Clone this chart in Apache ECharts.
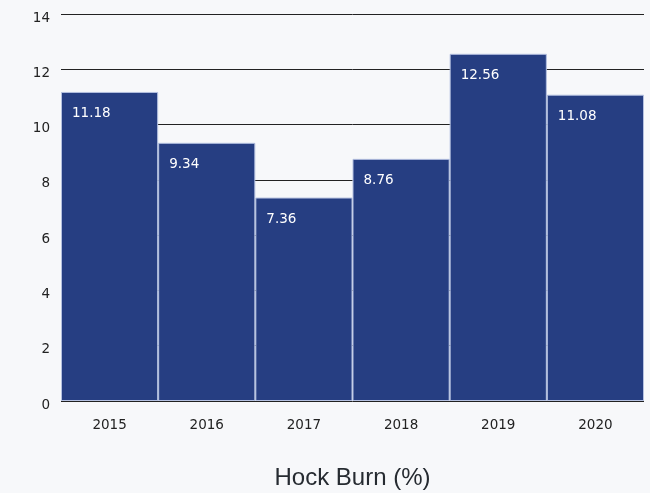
<!DOCTYPE html>
<html><head><meta charset="utf-8">
<script src="https://cdn.jsdelivr.net/npm/echarts@6/dist/echarts.min.js"></script>
<style>html,body{margin:0;padding:0;background:#f7f8fa}#c{width:650px;height:493px}</style>
</head><body><div id="c"></div>
<script>
const categories = ['2015','2016','2017','2018','2019','2020'];
const values = [11.18, 9.34, 7.36, 8.76, 12.56, 11.08];
const yTicks = [0,2,4,6,8,10,12,14];
const chart = echarts.init(document.getElementById('c'));
const font = 'DejaVu Sans';
chart.setOption({
  backgroundColor:'#f7f8fa',
  animation:false,
  grid:{left:61,right:6,top:14,bottom:92,containLabel:false,outerBoundsMode:'none'},
  xAxis:{type:'category',data:categories,
    name:'Hock Burn (%)',nameLocation:'middle',nameGap:65,
    nameTextStyle:{fontFamily:'Liberation Sans',fontSize:24,color:'#262b31'},
    axisLine:{show:false},axisTick:{show:false},
    axisLabel:{fontFamily:font,fontSize:13.5,color:'#222',margin:17}},
  yAxis:{type:'value',min:yTicks[0],max:yTicks[yTicks.length-1],interval:2,
    axisLine:{show:false},axisTick:{show:false},
    axisLabel:{fontFamily:font,fontSize:13.5,color:'#222',margin:11,verticalAlign:'top',lineHeight:8},
    splitLine:{lineStyle:{color:'#222',width:1}}},
  series:[{type:'bar',data:values,barCategoryGap:'0%',
    itemStyle:{color:'#263e82',borderColor:'#b4c0e0',borderWidth:1},
    label:{show:true,position:'insideTopLeft',distance:11,offset:[0,4],
      color:'#fff',fontFamily:font,fontSize:13.5}}]
});
</script></body></html>
